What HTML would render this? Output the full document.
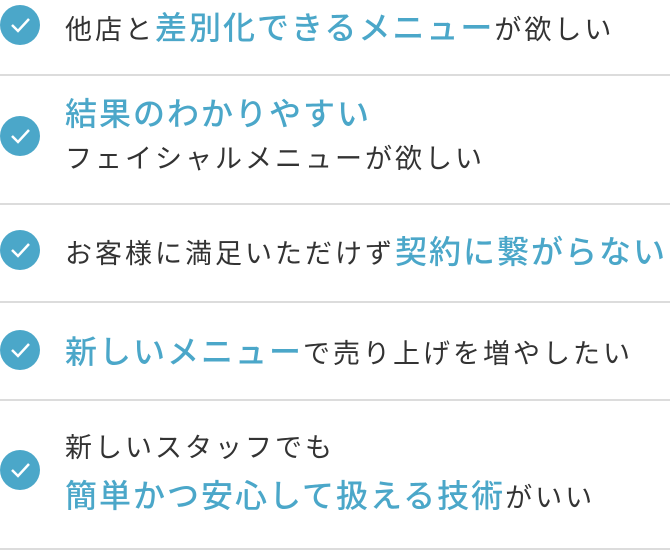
<!DOCTYPE html>
<html><head><meta charset="utf-8"><style>
html,body{margin:0;padding:0;background:#fff;width:670px;height:551px;overflow:hidden;position:relative;font-family:"Liberation Sans","Noto Sans CJK JP",sans-serif}
.ic{position:absolute;left:0;width:40px;height:40px;border-radius:50%;background:#4ba7c9}
.ic svg{position:absolute;left:0;top:0}
.hr{position:absolute;left:0;width:670px;height:2px;background:#dcdcdc}
.t{position:absolute;left:65px;white-space:nowrap;color:#333;font-size:27px;letter-spacing:3px;line-height:1}
.b{color:#4ba7c9;font-size:32px;letter-spacing:2px;font-weight:500}
</style></head><body>
<div class="ic" style="top:5px"><svg width="40" height="40"><path d="M12 20 L18 26 L29 14" fill="none" stroke="#fff" stroke-width="2.5"/></svg></div>
<div class="t" style="top:12px">他店と<span class="b">差別化できるメニュー</span>が欲しい</div>
<div class="hr" style="top:74px"></div>

<div class="ic" style="top:116px"><svg width="40" height="40"><path d="M12 20 L18 26 L29 14" fill="none" stroke="#fff" stroke-width="2.5"/></svg></div>
<div class="t" style="top:98px"><span class="b">結果のわかりやすい</span></div>
<div class="t" style="top:146px">フェイシャルメニューが欲しい</div>
<div class="hr" style="top:203px"></div>

<div class="ic" style="top:230px"><svg width="40" height="40"><path d="M12 20 L18 26 L29 14" fill="none" stroke="#fff" stroke-width="2.5"/></svg></div>
<div class="t" style="top:236px">お客様に満足いただけず<span class="b">契約に繋がらない</span></div>
<div class="hr" style="top:301px"></div>

<div class="ic" style="top:330px"><svg width="40" height="40"><path d="M12 20 L18 26 L29 14" fill="none" stroke="#fff" stroke-width="2.5"/></svg></div>
<div class="t" style="top:336px"><span class="b">新しいメニュー</span>で売り上げを増やしたい</div>
<div class="hr" style="top:399px"></div>

<div class="ic" style="top:450px"><svg width="40" height="40"><path d="M12 20 L18 26 L29 14" fill="none" stroke="#fff" stroke-width="2.5"/></svg></div>
<div class="t" style="top:435px">新しいスタッフでも</div>
<div class="t" style="top:480px"><span class="b">簡単かつ安心して扱える技術</span>がいい</div>
<div class="hr" style="top:548px"></div>
</body></html>
